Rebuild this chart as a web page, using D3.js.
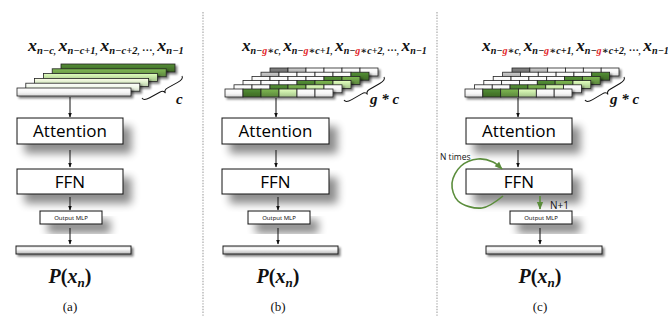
<!DOCTYPE html>
<html>
<head>
<meta charset="utf-8">
<script src="https://cdn.jsdelivr.net/npm/d3@7"></script>
<style>
  body { margin: 0; background: #fff; }
  svg { display: block; }
</style>
</head>
<body>
<svg id="canvas"></svg>
<script>
let width = 668;
let height = 316;

// ---- data ----
const captions = ['(a)', '(b)', '(c)'];
const blockNames = ['Attention', 'FFN'];
const mlpName = 'Output MLP';
const spanLabels = ['c', 'g * c', 'g * c'];
// subscripts of the context tokens, {g} is drawn red
const tokenSubs = [
    ['n−c', 'n−c+1', 'n−c+2', '…', 'n−1'],
    ['n−{g}∗c', 'n−{g}∗c+1', 'n−{g}∗c+2', '…', 'n−1'],
    ['n−{g}∗c', 'n−{g}∗c+1', 'n−{g}∗c+2', '…', 'n−1']
];
// (a): one bar per token, bottom bar first
const barColors = ['#f4f4f4', '#eef6e6', '#d9ecc6', '#bcdb9e', '#6c9c48', '#47772c'];
// (b),(c): g tokens per row, bottom row first
const cellRows = [
    ['W', 'D', 'M', 'L', 'W', 'W'],
    ['W', 'W', 'D', 'M', 'L', 'W'],
    ['W', 'W', 'W', 'D', 'M', 'L'],
    ['W', 'W', 'W', 'W', 'D', 'M'],
    ['S', 'W', 'W', 'W', 'W', 'D'],
    ['K', 'S', 'W', 'W', 'W', 'W']
];
const cellColors = { W: '#f6f6f6', D: '#477a2c', M: '#6a9c45', L: '#bfe0a0', K: '#6e6e6e', S: '#adadad' };
const loopLabel = 'N times';
const stepLabel = 'N+1';

// ---- layout ----
const panels = [
    { stack: { x0: 17, y0: 88, dx: 8.8, dy: -4.8, w: 114, h: 8 }, label: { x: 28, y: 51, w: 157 },
      brace: [142, 98, 182, 76], span: { x: 176, y: 104 }, box: { x: 17, w: 106 },
      mlp: { x: 40, w: 62 }, axTop: 70, axLow: 70, out: { x: 16, w: 115 }, cx: 70 },
    { stack: { x0: 225, y0: 89, dx: 9, dy: -4.2, w: 108, h: 8 }, label: { x: 242, y: 51, w: 186 },
      brace: [344, 100, 384, 77], span: { x: 370, y: 104 }, box: { x: 222, w: 107 },
      mlp: { x: 248, w: 62 }, axTop: 276, axLow: 278, out: { x: 223, w: 115 }, cx: 278 },
    { stack: { x0: 465, y0: 89, dx: 9.4, dy: -4.2, w: 107, h: 8 }, label: { x: 482, y: 51, w: 188 },
      brace: [585, 100, 624, 77], span: { x: 610, y: 104 }, box: { x: 466, w: 106 },
      mlp: { x: 510, w: 62 }, axTop: 518, axLow: 540, out: { x: 486, w: 116 }, cx: 540 }
];
const attY = 118, attH = 26, ffnY = 169, ffnH = 25, mlpY = 211, mlpH = 13, outY = 246, outH = 8;
const dividers = [203, 437];
const loopPts = [[503, 196], [482, 208], [458, 201], [452, 183], [461, 166], [478, 159], [493, 162], [502, 169]];

let canvas = d3.select('#canvas').attr('width', width).attr('height', height);
let defs = canvas.append('defs');

// soft drop shadow under blocks
let sh = defs.append('filter').attr('id', 'shadow').attr('x', '-20%').attr('y', '-30%').attr('width', '160%').attr('height', '200%');
sh.append('feGaussianBlur').attr('in', 'SourceAlpha').attr('stdDeviation', 4);
sh.append('feOffset').attr('dx', 8).attr('dy', 9).attr('result', 'off');
sh.append('feComponentTransfer').append('feFuncA').attr('type', 'linear').attr('slope', 0.45);
let shm = sh.append('feMerge');
shm.append('feMergeNode');
shm.append('feMergeNode').attr('in', 'SourceGraphic');

// small shadow under bars
let sh2 = defs.append('filter').attr('id', 'barShadow').attr('x', '-10%').attr('y', '-50%').attr('width', '130%').attr('height', '250%');
sh2.append('feGaussianBlur').attr('in', 'SourceAlpha').attr('stdDeviation', 1);
sh2.append('feOffset').attr('dx', 2).attr('dy', 2);
sh2.append('feComponentTransfer').append('feFuncA').attr('type', 'linear').attr('slope', 0.5);
let sh2m = sh2.append('feMerge');
sh2m.append('feMergeNode');
sh2m.append('feMergeNode').attr('in', 'SourceGraphic');

// vertical gradient per colour
function gradId (color) {
    let id = 'g' + color.slice(1);
    if (defs.select('#' + id).empty()) {
        let lg = defs.append('linearGradient').attr('id', id).attr('x1', 0).attr('y1', 0).attr('x2', 0).attr('y2', 1);
        lg.append('stop').attr('offset', '0%').attr('stop-color', d3.color(color).brighter(0.5));
        lg.append('stop').attr('offset', '55%').attr('stop-color', color);
        lg.append('stop').attr('offset', '100%').attr('stop-color', d3.color(color).darker(0.4));
    }
    return 'url(#' + id + ')';
}

// output bar gradient
let og = defs.append('linearGradient').attr('id', 'outGrad').attr('x1', 0).attr('y1', 0).attr('x2', 0).attr('y2', 1);
og.append('stop').attr('offset', '0%').attr('stop-color', '#d8d8d8');
og.append('stop').attr('offset', '35%').attr('stop-color', '#ffffff');
og.append('stop').attr('offset', '100%').attr('stop-color', '#b8b8b8');

// arrow markers
[['arrowK', '#111'], ['arrowG', '#5b8d3c']].forEach(([id, c]) => {
    defs.append('marker').attr('id', id).attr('viewBox', '0 0 10 10').attr('refX', 9).attr('refY', 5)
        .attr('markerWidth', 5).attr('markerHeight', 5).attr('orient', 'auto')
        .append('path').attr('d', 'M0,1 L10,5 L0,9 Z').attr('fill', c);
});

// dividers
canvas.selectAll('line.divider')
    .data(dividers)
    .enter()
    .append('line')
    .attr('class', 'divider')
    .attr('x1', d => d).attr('x2', d => d)
    .attr('y1', 12).attr('y2', height)
    .attr('stroke', '#a8a8a8')
    .attr('stroke-width', 1.2)
    .attr('stroke-dasharray', '1.4,1.4');

function bracePath (len, h) {
    return 'M0,0 Q0,' + (h / 2) + ' ' + (len * 0.15) + ',' + (h / 2) +
        ' L' + (len * 0.4) + ',' + (h / 2) +
        ' Q' + (len * 0.5) + ',' + (h / 2) + ' ' + (len * 0.5) + ',' + h +
        ' Q' + (len * 0.5) + ',' + (h / 2) + ' ' + (len * 0.6) + ',' + (h / 2) +
        ' L' + (len * 0.85) + ',' + (h / 2) +
        ' Q' + len + ',' + (h / 2) + ' ' + len + ',0';
}

function drawTokens (g, p, subs) {
    let t = g.append('text')
        .attr('x', p.label.x).attr('y', p.label.y)
        .attr('font-family', '"Liberation Serif", "DejaVu Serif", serif')
        .attr('font-weight', 'bold').attr('font-style', 'italic')
        .attr('fill', '#111');
    let cur = 0;
    function add (txt, size, off, fill) {
        let ts = t.append('tspan').attr('font-size', size).attr('dy', off - cur).text(txt);
        cur = off;
        if (fill) ts.attr('fill', fill);
        return ts;
    }
    subs.forEach((s, i) => {
        if (s === '…') {
            add('…', 10, 0).attr('font-style', 'normal');
        } else {
            add('x', 17, 0);
            s.split(/(\{g\})/).forEach(part => {
                if (!part) return;
                if (part === '{g}') add('g', 10, 3.5, '#e3262b');
                else add(part, 10, 3.5);
            });
        }
        if (i < subs.length - 1) add(', ', 9, 3.5);
    });
    let bw = t.node().getBBox().width;
    let s = p.label.w / bw;
    t.attr('transform', 'translate(' + p.label.x + ',0) scale(' + s + ',1) translate(' + (-p.label.x) + ',0)');
}

function drawBox (g, x, y, w, h, name, size) {
    g.append('rect')
        .attr('x', x).attr('y', y).attr('width', w).attr('height', h)
        .attr('fill', '#fff').attr('stroke', '#111').attr('stroke-width', 1)
        .attr('filter', 'url(#shadow)');
    g.append('text')
        .attr('x', x + w / 2).attr('y', y + h / 2)
        .attr('dy', '0.36em')
        .attr('text-anchor', 'middle')
        .attr('font-family', '"Open Sans", "Noto Sans", sans-serif')
        .attr('font-size', size)
        .attr('fill', '#000')
        .text(name);
}

function arrow (g, x, y1, y2, marker, color) {
    g.append('line')
        .attr('x1', x).attr('x2', x).attr('y1', y1).attr('y2', y2)
        .attr('stroke', color).attr('stroke-width', color === '#111' ? 1 : 1.6)
        .attr('marker-end', 'url(#' + marker + ')');
}

panels.forEach((p, pi) => {
    let g = canvas.append('g').attr('class', 'panel');
    let st = p.stack;

    drawTokens(g, p, tokenSubs[pi]);

    // stack of context tokens, drawn back to front
    let rowX = d3.scaleLinear().domain([0, 5]).range([st.x0, st.x0 + 5 * st.dx]);
    let rowY = d3.scaleLinear().domain([0, 5]).range([st.y0, st.y0 + 5 * st.dy]);
    if (pi === 0) {
        g.selectAll('rect.bar')
            .data(barColors.map((c, i) => ({ c, i })).reverse())
            .enter()
            .append('rect')
            .attr('class', 'bar')
            .attr('x', d => rowX(d.i)).attr('y', d => rowY(d.i))
            .attr('width', st.w).attr('height', st.h)
            .attr('fill', d => gradId(d.c))
            .attr('stroke', '#222').attr('stroke-width', 0.8)
            .attr('filter', 'url(#barShadow)');
    } else {
        let cellX = d3.scaleBand().domain(d3.range(6)).range([0, st.w]);
        let rows = g.selectAll('g.row')
            .data(cellRows.map((r, i) => ({ r, i })).reverse())
            .enter()
            .append('g')
            .attr('class', 'row')
            .attr('transform', d => 'translate(' + rowX(d.i) + ',' + rowY(d.i) + ')')
            .attr('filter', 'url(#barShadow)');
        rows.selectAll('rect')
            .data(d => d.r)
            .enter()
            .append('rect')
            .attr('x', (d, i) => cellX(i)).attr('y', 0)
            .attr('width', cellX.bandwidth()).attr('height', st.h)
            .attr('fill', d => gradId(cellColors[d]))
            .attr('stroke', '#222').attr('stroke-width', 0.8);
    }

    // brace + span label
    let [bx1, by1, bx2, by2] = p.brace;
    let blen = Math.hypot(bx2 - bx1, by2 - by1);
    let ang = Math.atan2(by2 - by1, bx2 - bx1) * 180 / Math.PI;
    g.append('path')
        .attr('d', bracePath(blen, 7))
        .attr('transform', 'translate(' + bx1 + ',' + by1 + ') rotate(' + ang + ')')
        .attr('fill', 'none').attr('stroke', '#111').attr('stroke-width', 1);
    g.append('text')
        .attr('x', p.span.x).attr('y', p.span.y)
        .attr('font-family', '"Liberation Serif", serif')
        .attr('font-weight', 'bold').attr('font-style', 'italic')
        .attr('font-size', 15).attr('fill', '#111')
        .text(spanLabels[pi]);

    // blocks
    drawBox(g, p.box.x, attY, p.box.w, attH, blockNames[0], 17);
    drawBox(g, p.box.x, ffnY, p.box.w, ffnH, blockNames[1], 17);
    drawBox(g, p.mlp.x, mlpY, p.mlp.w, mlpH, mlpName, 6);

    // arrows
    arrow(g, p.axTop, st.y0 + st.h + 1, attY - 1, 'arrowK', '#111');
    arrow(g, p.axTop, attY + attH + 6, ffnY - 2, 'arrowK', '#111');
    if (pi === 2) {
        arrow(g, p.axLow, ffnY + ffnH + 2, mlpY - 2, 'arrowG', '#5b8d3c');
    } else {
        arrow(g, p.axLow, ffnY + ffnH + 3, mlpY - 1, 'arrowK', '#111');
    }
    arrow(g, p.axLow, mlpY + mlpH + 4, outY - 2, 'arrowK', '#111');

    // output bar
    g.append('rect')
        .attr('x', p.out.x).attr('y', outY).attr('width', p.out.w).attr('height', outH)
        .attr('fill', 'url(#outGrad)').attr('stroke', '#222').attr('stroke-width', 1)
        .attr('filter', 'url(#barShadow)');

    // P(x_n)
    let pt = g.append('text')
        .attr('x', p.cx).attr('y', 283)
        .attr('text-anchor', 'middle')
        .attr('font-family', '"Liberation Serif", serif')
        .attr('font-weight', 'bold').attr('fill', '#111');
    pt.append('tspan').attr('font-size', 20).attr('font-style', 'italic').text('P');
    pt.append('tspan').attr('font-size', 20).text('(');
    pt.append('tspan').attr('font-size', 20).attr('font-style', 'italic').text('x');
    pt.append('tspan').attr('font-size', 13).attr('font-style', 'italic').attr('dy', 4).text('n');
    pt.append('tspan').attr('font-size', 20).attr('dy', -4).text(')');

    g.append('text')
        .attr('x', p.cx).attr('y', 311)
        .attr('text-anchor', 'middle')
        .attr('font-family', '"Liberation Serif", serif')
        .attr('font-size', 13).attr('fill', '#111')
        .text(captions[pi]);
});

// (c): repeated FFN loop
let lg = canvas.append('g').attr('class', 'loop');
lg.append('path')
    .attr('d', d3.line().curve(d3.curveCatmullRom)(loopPts))
    .attr('fill', 'none').attr('stroke', '#5b8d3c').attr('stroke-width', 1.6)
    .attr('marker-end', 'url(#arrowG)');
lg.append('text')
    .attr('x', 440).attr('y', 160)
    .attr('font-family', '"Open Sans", "Noto Sans", sans-serif')
    .attr('font-size', 8.5).attr('fill', '#111')
    .text(loopLabel);
lg.append('text')
    .attr('x', 550).attr('y', 209)
    .attr('font-family', '"Open Sans", "Noto Sans", sans-serif')
    .attr('font-size', 10).attr('fill', '#111')
    .text(stepLabel);
</script>
</body>
</html>
